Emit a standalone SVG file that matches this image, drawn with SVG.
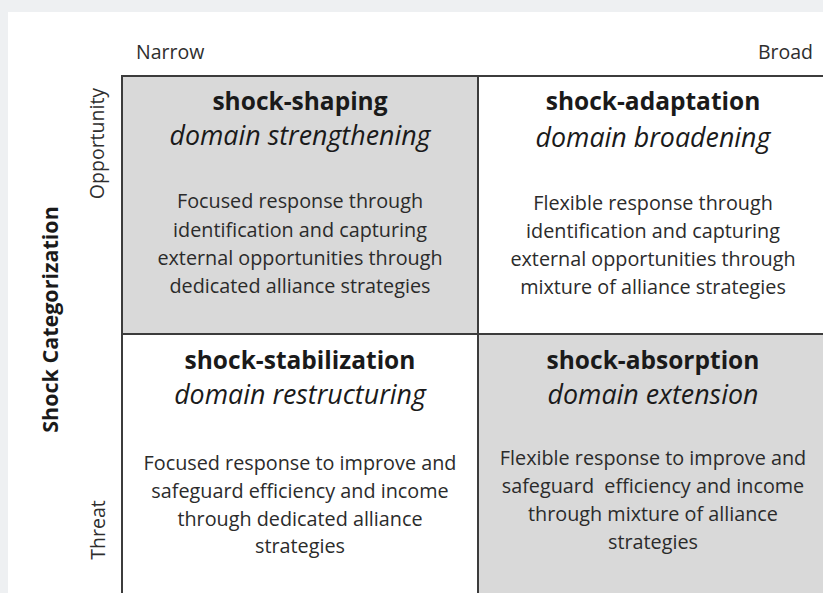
<svg xmlns="http://www.w3.org/2000/svg" width="823" height="593" viewBox="0 0 823 593">
<style>
text{font-family:"Open Sans","Noto Sans","Liberation Sans",sans-serif}
.title{font-size:24.5px;font-weight:bold;fill:#1a1a1a;text-anchor:middle}
.sub{font-size:26.8px;font-style:italic;fill:#1a1a1a;text-anchor:middle}
.body{font-size:19.8px;fill:#2b2b2b;text-anchor:middle}
.axis{font-size:19.5px;fill:#2e2e2e}
.cat{font-size:21.5px;font-weight:bold;fill:#1a1a1a;text-anchor:middle}
.grid{stroke:#3c3c3c;stroke-width:2;fill:none}
.shade{fill:#d9d9d9}
</style>
<rect x="0" y="0" width="823" height="593" fill="#eef0f2"/>
<rect x="8" y="12" width="815" height="581" fill="#ffffff"/>

<g id="axis-labels">
<text class="axis" x="136" y="59">Narrow</text>
<text class="axis" x="813" y="59" text-anchor="end">Broad</text>
<text class="axis" text-anchor="middle" transform="translate(104,143.5) rotate(-90)">Opportunity</text>
<text class="axis" text-anchor="middle" transform="translate(105,530) rotate(-90)">Threat</text>
<text class="cat" transform="translate(57.5,319.5) rotate(-90)">Shock Categorization</text>
</g>

<g id="shock-shaping">
<rect class="shade" x="122" y="76" width="356" height="258"/>
<text class="title" x="300" y="110">shock-shaping</text>
<text class="sub" x="300" y="145">domain strengthening</text>
<text class="body" x="300" y="208">Focused response through</text>
<text class="body" x="300" y="236.5">identification and capturing</text>
<text class="body" x="300" y="265">external opportunities through</text>
<text class="body" x="300" y="293">dedicated alliance strategies</text>
</g>

<g id="shock-adaptation">
<text class="title" x="653" y="110">shock-adaptation</text>
<text class="sub" x="653" y="147">domain broadening</text>
<text class="body" x="653" y="210">Flexible response through</text>
<text class="body" x="653" y="238">identification and capturing</text>
<text class="body" x="653" y="266">external opportunities through</text>
<text class="body" x="653" y="293.5">mixture of alliance strategies</text>
</g>

<g id="shock-stabilization">
<text class="title" x="300" y="369">shock-stabilization</text>
<text class="sub" x="300" y="404">domain restructuring</text>
<text class="body" x="300" y="470">Focused response to improve and</text>
<text class="body" x="300" y="498">safeguard efficiency and income</text>
<text class="body" x="300" y="525.5">through dedicated alliance</text>
<text class="body" x="300" y="553">strategies</text>
</g>

<g id="shock-absorption">
<rect class="shade" x="478" y="334" width="345" height="259"/>
<text class="title" x="653" y="369">shock-absorption</text>
<text class="sub" x="653" y="404">domain extension</text>
<text class="body" x="653" y="465">Flexible response to improve and</text>
<text class="body" x="653" y="493" xml:space="preserve">safeguard  efficiency and income</text>
<text class="body" x="653" y="521">through mixture of alliance</text>
<text class="body" x="653" y="548.5">strategies</text>
</g>

<g id="connectors">
<line class="grid" x1="121" y1="76" x2="823" y2="76"/>
<line class="grid" x1="122" y1="75" x2="122" y2="593"/>
<line class="grid" x1="478" y1="76" x2="478" y2="593"/>
<line class="grid" x1="122" y1="334" x2="823" y2="334"/>
</g>
</svg>
